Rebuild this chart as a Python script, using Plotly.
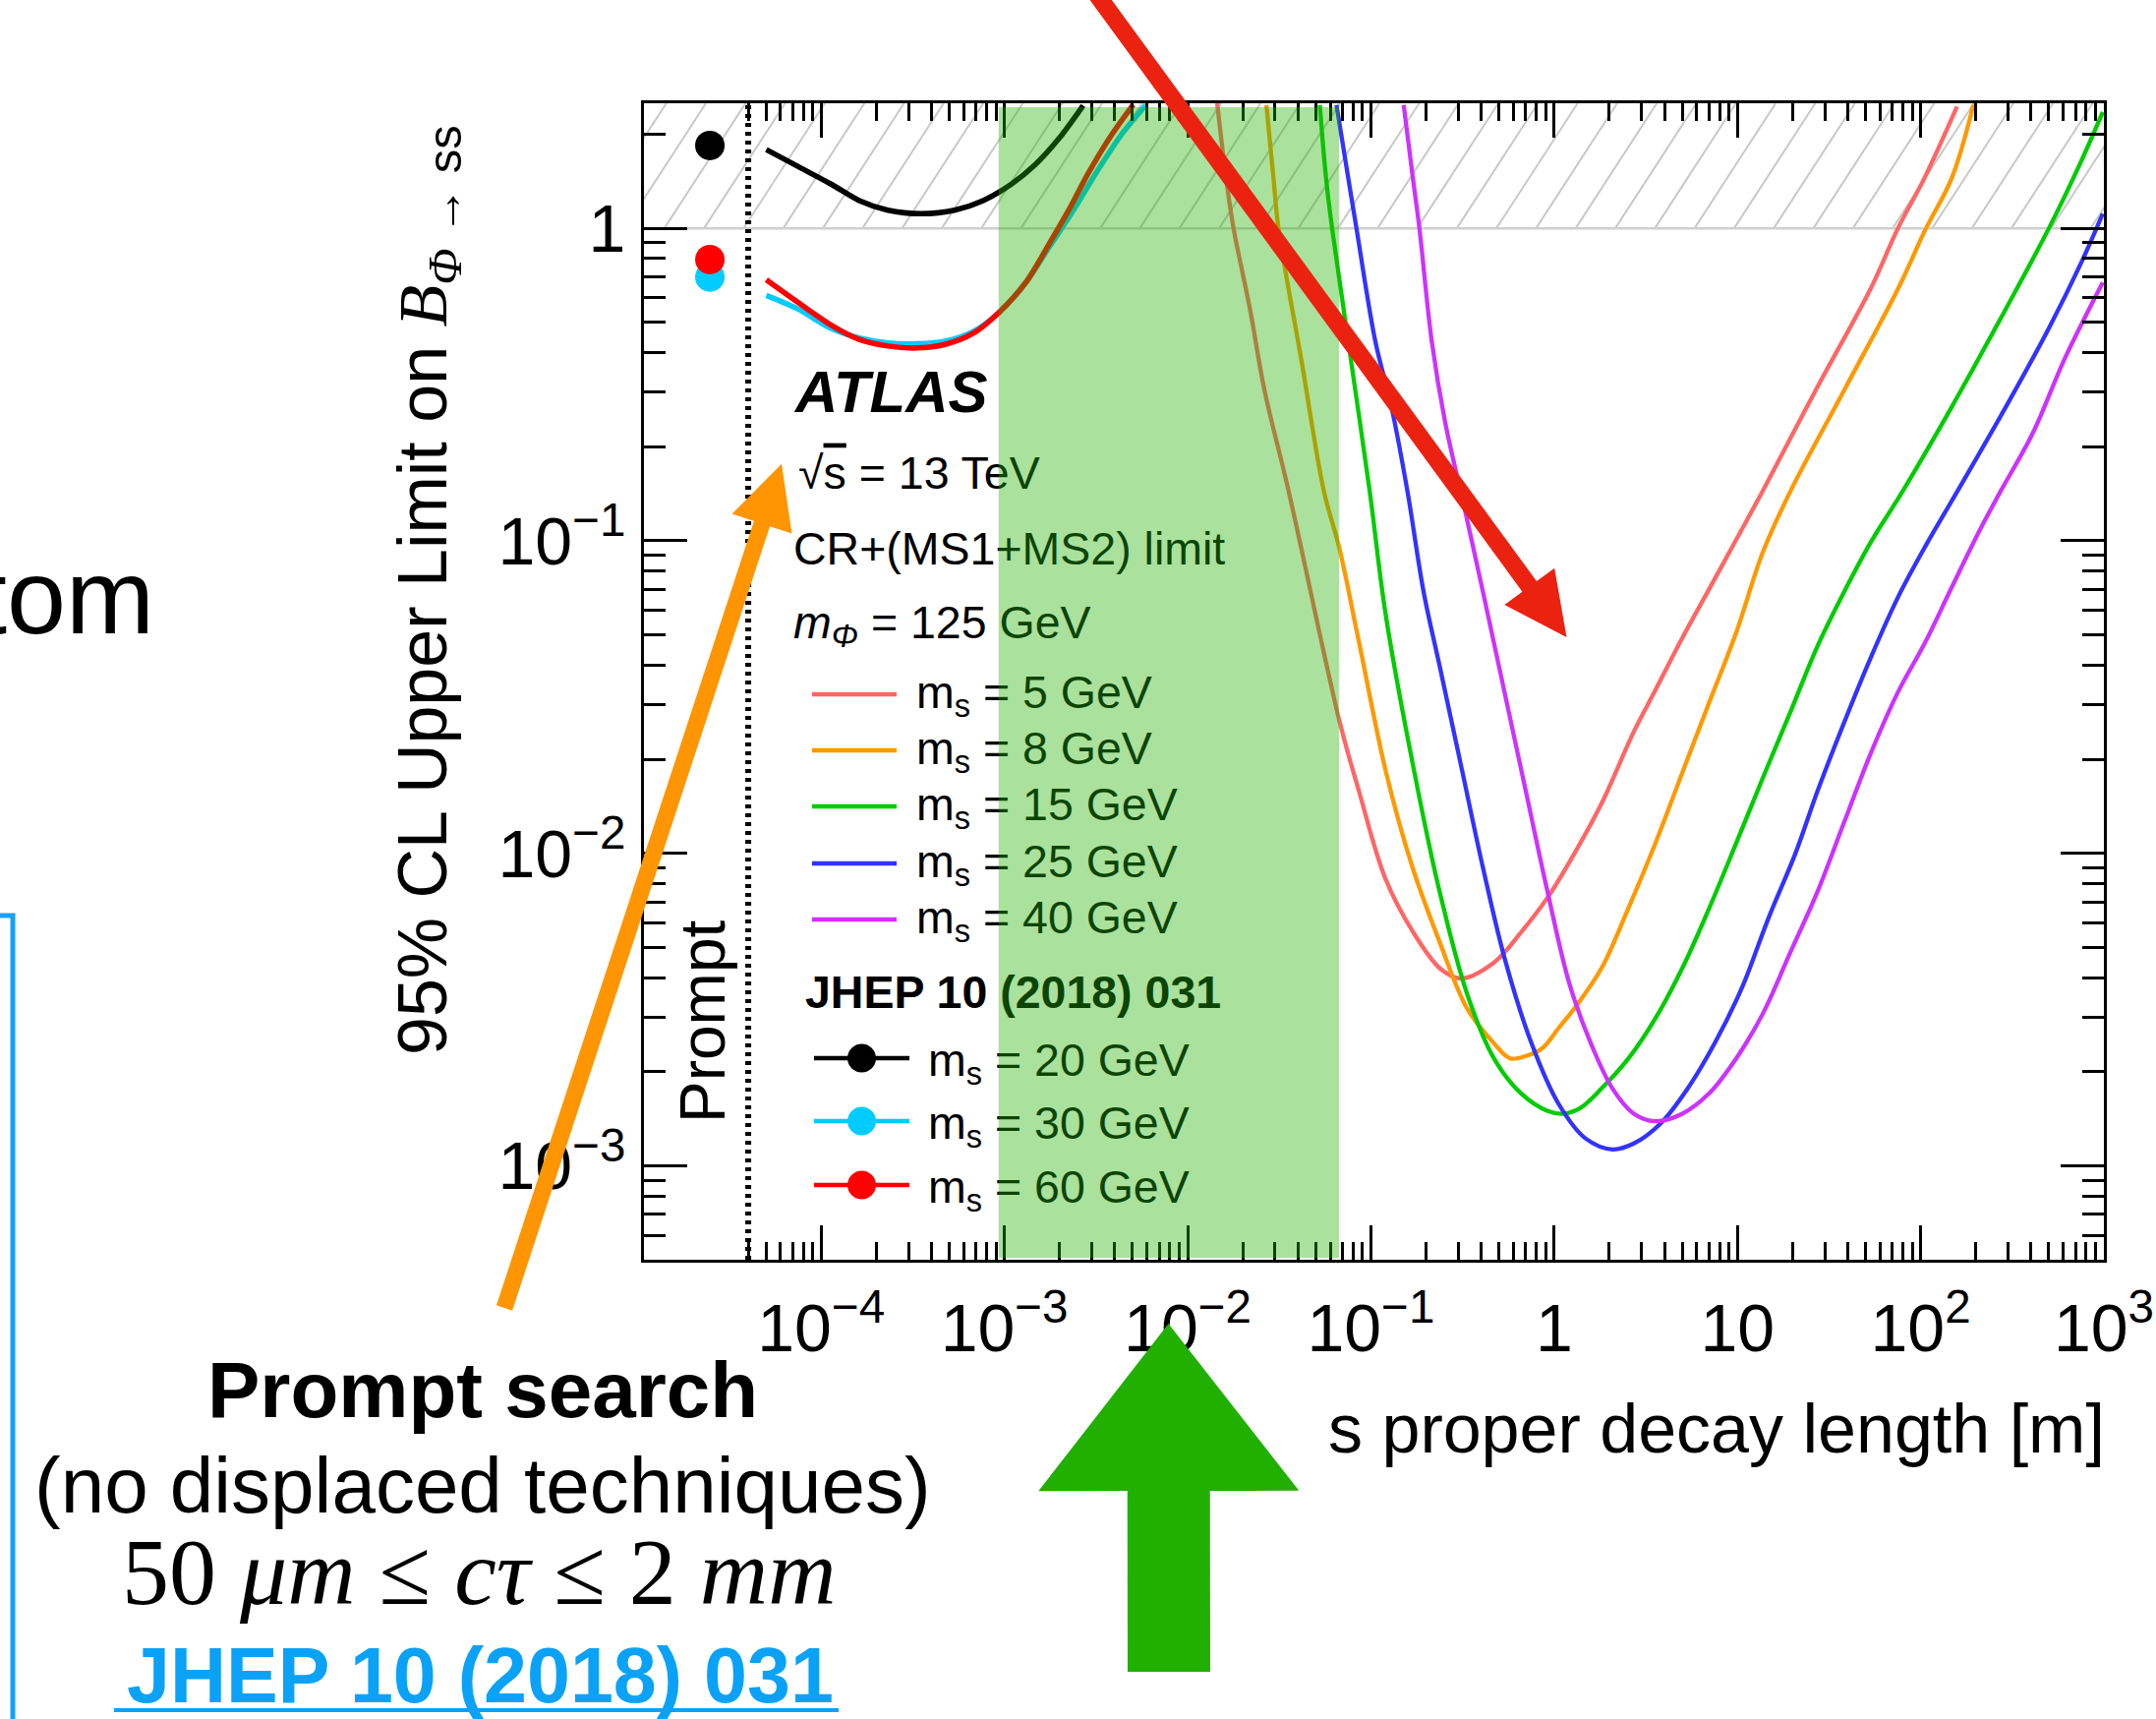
import math
import plotly.graph_objects as go

# ---------------- data ----------------
# x: s proper decay length [m] ; y: 95% CL upper limit on B(Phi->ss)
X_MS5 = [0.0145, 0.0162, 0.0178, 0.0219, 0.0263, 0.0355, 0.0676, 0.0861, 0.120, 0.170, 0.240, 0.309,
         0.468, 0.661, 0.923, 1.29, 1.82, 2.72, 3.55, 5.01, 7.08, 9.77, 13.8, 27.2, 53.7, 75.2, 105, 158]
Y_MS5 = [2.51, 1.45, 1.0, 0.55, 0.302, 0.145, 0.0263, 0.0158, 0.0083, 0.0056, 0.00427, 0.00398,
         0.00447, 0.0056, 0.00724, 0.0100, 0.0145, 0.0245, 0.0331, 0.049, 0.0708, 0.100, 0.145, 0.309,
         0.646, 1.0, 1.45, 2.45]

X_MS8 = [0.0269, 0.0294, 0.0313, 0.0417, 0.0555, 0.0670, 0.0861, 0.121, 0.169, 0.238, 0.334, 0.469,
         0.574, 0.703, 0.861, 1.057, 1.294, 1.816, 2.547, 3.573, 5.01, 7.03, 9.86, 13.8, 19.4, 38.2,
         75.2, 106, 148, 194]
Y_MS8 = [2.48, 1.45, 1.0, 0.38, 0.1435, 0.0957, 0.0474, 0.01816, 0.00899, 0.00518, 0.0032, 0.00247,
         0.00221, 0.00225, 0.00238, 0.00276, 0.0032, 0.0043, 0.0067, 0.0108, 0.01816, 0.0305, 0.051,
         0.0923, 0.1435, 0.303, 0.64, 0.989, 1.45, 2.48]

X_MS15 = [0.0526, 0.0569, 0.0614, 0.0752, 0.0986, 0.121, 0.1816, 0.238, 0.334, 0.469, 0.658, 0.923,
          1.13, 1.384, 1.816, 2.547, 3.573, 5.01, 7.03, 9.86, 13.8, 19.4, 27.2, 38.2, 53.6, 79.4, 148,
          292, 501, 752, 986]
Y_MS15 = [2.48, 1.45, 1.0, 0.435, 0.1435, 0.057, 0.01567, 0.00748, 0.00357, 0.00221, 0.00171, 0.0015,
          0.00147, 0.00153, 0.00177, 0.00221, 0.00297, 0.0043, 0.0067, 0.0108, 0.0175, 0.0282, 0.0457,
          0.0686, 0.0993, 0.1435, 0.2685, 0.553, 1.0, 1.64, 2.355]

X_MS25 = [0.0649, 0.0752, 0.0834, 0.1057, 0.1294, 0.1585, 0.194, 0.238, 0.312, 0.409, 0.536, 0.752,
          1.057, 1.483, 2.08, 2.72, 3.82, 5.36, 7.52, 10.57, 14.8, 20.8, 27.2, 38.2, 53.6, 75.2, 106,
          158, 292, 501, 752, 986]
Y_MS25 = [2.48, 1.45, 1.0, 0.435, 0.2685, 0.1435, 0.0686, 0.0394, 0.01884, 0.00899, 0.00463, 0.00247,
          0.00158, 0.001225, 0.00113, 0.00118, 0.00137, 0.00177, 0.00247, 0.00371, 0.00622, 0.01005,
          0.01567, 0.0262, 0.0425, 0.0660, 0.0960, 0.1435, 0.2685, 0.479, 0.776, 1.114]

X_MS40 = [0.151, 0.1694, 0.184, 0.2148, 0.2547, 0.323, 0.409, 0.536, 0.703, 0.923, 1.208, 1.585, 2.08,
          2.72, 3.573, 5.01, 7.03, 9.86, 13.8, 19.4, 27.2, 38.2, 53.6, 75.2, 106, 148, 208, 272, 409,
          614, 986]
Y_MS40 = [2.48, 1.45, 1.0, 0.435, 0.238, 0.1285, 0.0686, 0.0328, 0.01567, 0.00748, 0.00385, 0.00247,
          0.00177, 0.00147, 0.00139, 0.00147, 0.00171, 0.00221, 0.00308, 0.00481, 0.00748, 0.01256,
          0.021, 0.0328, 0.0474, 0.0711, 0.1069, 0.1435, 0.221, 0.385, 0.671]

# JHEP 10 (2018) 031 (prompt search) curves
X_J20 = [5.02e-5, 7.41e-5, 1.127e-4, 1.614e-4, 2.31e-4, 3.52e-4, 5.35e-4, 7.66e-4, 1.096e-3,
         1.476e-3, 1.99e-3, 2.69e-3]
Y_J20 = [1.786, 1.581, 1.387, 1.227, 1.143, 1.114, 1.143, 1.227, 1.387, 1.6, 1.941, 2.47]
X_J30 = [5.02e-5, 7.41e-5, 1.127e-4, 1.614e-4, 2.31e-4, 3.31e-4, 4.74e-4, 6.79e-4, 9.44e-4,
         1.309e-3, 1.766e-3, 2.38e-3, 3.21e-3, 4.34e-3, 5.92e-3]
Y_J30 = [0.61, 0.553, 0.479, 0.446, 0.43, 0.427, 0.435, 0.468, 0.541, 0.671, 0.875, 1.143, 1.524,
         1.991, 2.483]
X_J60 = [5.02e-5, 7.41e-5, 1.127e-4, 1.614e-4, 2.31e-4, 3.31e-4, 4.74e-4, 6.79e-4, 9.44e-4,
         1.309e-3, 1.766e-3, 2.244e-3, 2.85e-3, 3.85e-3, 5.04e-3]
Y_J60 = [0.684, 0.581, 0.491, 0.441, 0.42, 0.414, 0.425, 0.462, 0.541, 0.671, 0.897, 1.143, 1.489,
         1.991, 2.483]

# prompt points (plotted left of the prompt boundary)
X_PROMPT = 2.47e-5
Y_PROMPT = {"20": 1.84, "30": 0.698, "60": 0.794}

PROMPT_BOUNDARY = 4.0e-5          # dotted line
BAND_X = (9.3e-4, 0.067)           # green highlighted band
HATCH_LOW = 1.0                    # B > 1 hatched region

MAIN_LABELS = ["5", "8", "15", "25", "40"]
JHEP_LABELS = ["20", "30", "60"]

# tick labels
X_TICKVALS = [1e-4, 1e-3, 1e-2, 1e-1, 1, 10, 100, 1000]
X_TICKTEXT = ["10<sup>−4</sup>", "10<sup>−3</sup>", "10<sup>−2</sup>", "10<sup>−1</sup>", "1", "10",
              "10<sup>2</sup>", "10<sup>3</sup>"]
Y_TICKVALS = [1e-3, 1e-2, 1e-1, 1]
Y_TICKTEXT = ["10<sup>−3</sup>", "10<sup>−2</sup>", "10<sup>−1</sup>", "1"]

# ---------------- layout constants ----------------
FIG_W, FIG_H = 2193, 1748
PL, PR, PT, PB = 655, 2140, 105, 1281
XLOG = (-4.967, 3.0)
YLOG = (-3.30, 0.40)
FONT = "Liberation Sans, Arial, Helvetica, sans-serif"
SERIF = "Liberation Serif, Times New Roman, serif"

MAIN_COLORS = ["#ff6666", "#ff9900", "#00cc00", "#3333ff", "#cc33ff"]
JHEP_COLORS = {"20": "#000000", "30": "#00ccff", "60": "#ff0000"}


def px_paper(x):
    return (x - PL) / (PR - PL)


def py_paper(y):
    return (PB - y) / (PB - PT)


def px_data(x):
    return 10 ** (XLOG[0] + (x - PL) / (PR - PL) * (XLOG[1] - XLOG[0]))


def py_data(y):
    return 10 ** (YLOG[1] - (y - PT) / (PB - PT) * (YLOG[1] - YLOG[0]))


def logx_paper(v):
    return (math.log10(v) - XLOG[0]) / (XLOG[1] - XLOG[0])


fig = go.Figure()

# hatched region B > 1 (decoration lines at ~57 degrees)
y1px = PT + (YLOG[1] - math.log10(HATCH_LOW)) / (YLOG[1] - YLOG[0]) * (PB - PT)
dxh = (y1px - PT) / math.tan(math.radians(57))
hx, hy = [], []
start = 1683.3
spacing = 40.3
k0 = -int((start - PL + dxh) / spacing) - 2
k1 = int((PR - start) / spacing) + 2
for k in range(k0, k1):
    xb = start + k * spacing
    hx += [px_data(xb), px_data(xb + dxh), None]
    hy += [py_data(y1px), py_data(PT), None]
fig.add_trace(go.Scatter(x=hx, y=hy, mode="lines", line=dict(color="#c9c9c9", width=2),
                         hoverinfo="skip", showlegend=False))
fig.add_trace(go.Scatter(x=[10 ** XLOG[0], 10 ** XLOG[1]], y=[HATCH_LOW, HATCH_LOW], mode="lines",
                         line=dict(color="#cfcfcf", width=2.5), hoverinfo="skip", showlegend=False))

# prompt boundary
fig.add_trace(go.Scatter(x=[PROMPT_BOUNDARY, PROMPT_BOUNDARY], y=[10 ** YLOG[0], 10 ** YLOG[1]],
                         mode="lines", line=dict(color="black", width=6, dash="4px,5px"),
                         hoverinfo="skip", showlegend=False))

# main limit curves
for xs, ys, col, lab in zip([X_MS5, X_MS8, X_MS15, X_MS25, X_MS40],
                            [Y_MS5, Y_MS8, Y_MS15, Y_MS25, Y_MS40], MAIN_COLORS, MAIN_LABELS):
    fig.add_trace(go.Scatter(x=xs, y=ys, mode="lines",
                             line=dict(color=col, width=4.3, shape="spline", smoothing=1.0),
                             name=f"m_s = {lab} GeV", showlegend=False))

# JHEP curves
for xs, ys, lab in [(X_J20, Y_J20, "20"), (X_J30, Y_J30, "30"), (X_J60, Y_J60, "60")]:
    fig.add_trace(go.Scatter(x=xs, y=ys, mode="lines",
                             line=dict(color=JHEP_COLORS[lab], width=5.5, shape="spline", smoothing=0.8),
                             showlegend=False))
for lab in ["20", "30", "60"]:
    fig.add_trace(go.Scatter(x=[X_PROMPT], y=[Y_PROMPT[lab]], mode="markers",
                             marker=dict(color=JHEP_COLORS[lab], size=30, line=dict(width=0)),
                             showlegend=False))

# ---------------- in-plot legend ----------------
TXT_DY = 6
MAIN_ROWS = [702, 759, 816, 874, 931]
for lab, col, ry in zip(MAIN_LABELS, MAIN_COLORS, MAIN_ROWS):
    fig.add_trace(go.Scatter(x=[px_data(826), px_data(912)], y=[py_data(ry + 4)] * 2, mode="lines",
                             line=dict(color=col, width=4.5), hoverinfo="skip", showlegend=False))
JHEP_ROWS = [1076, 1140, 1205]
for lab, ry in zip(JHEP_LABELS, JHEP_ROWS):
    fig.add_trace(go.Scatter(x=[px_data(828), px_data(925)], y=[py_data(ry)] * 2, mode="lines",
                             line=dict(color=JHEP_COLORS[lab], width=4.5), hoverinfo="skip",
                             showlegend=False))
    fig.add_trace(go.Scatter(x=[px_data(876.5)], y=[py_data(ry)], mode="markers",
                             marker=dict(color=JHEP_COLORS[lab], size=29), hoverinfo="skip",
                             showlegend=False))

texts = [
    (809, 398, "<b><i>ATLAS</i></b>", 60),
    (812, 479, "√<span style='text-decoration:overline'>s</span> = 13 TeV", 46.5),
    (807, 556, "CR+(MS1+MS2) limit", 46.5),
    (807, 631, "<i>m</i><sub><i>Φ</i></sub> = 125 GeV", 46.5),
    (819, 1007, "<b>JHEP 10 (2018) 031</b>", 46.5),
]
for lab, ry in zip(MAIN_LABELS, MAIN_ROWS):
    texts.append((932, ry, f"m<sub>s</sub> = {lab} GeV", 46.5))
for lab, ry in zip(JHEP_LABELS, JHEP_ROWS):
    texts.append((944, ry, f"m<sub>s</sub> = {lab} GeV", 46.5))
for tx, ty, tt, fs in texts:
    fig.add_trace(go.Scatter(x=[px_data(tx)], y=[py_data(ty + TXT_DY)], mode="text", text=[tt],
                             textposition="middle right", cliponaxis=False,
                             textfont=dict(family=FONT, size=fs, color="black"),
                             hoverinfo="skip", showlegend=False))

# ---------------- axes ----------------
X_MINOR = [m * 10 ** e for e in range(-5, 3) for m in range(2, 10) if m * 10 ** e >= PROMPT_BOUNDARY * 0.99]
Y_MINOR = [m * 10 ** e for e in range(-4, 1) for m in range(2, 10)]

axis_common = dict(type="log", tickmode="array", showgrid=False, zeroline=False, automargin=False,
                   showline=True, linecolor="black", linewidth=3, mirror="ticks", ticks="inside",
                   tickcolor="black", tickwidth=2.5,
                   tickfont=dict(family=FONT, size=68, color="black"))
fig.update_xaxes(**axis_common, range=list(XLOG), tickvals=X_TICKVALS, ticktext=X_TICKTEXT,
                 ticklen=35, ticklabelstandoff=8,
                 minor=dict(ticks="inside", ticklen=18, tickwidth=2.5, tickcolor="black",
                            tickvals=X_MINOR, showgrid=False))
fig.update_yaxes(**axis_common, range=list(YLOG), tickvals=Y_TICKVALS, ticktext=Y_TICKTEXT,
                 ticklen=44, ticklabelstandoff=2,
                 minor=dict(ticks="inside", ticklen=22, tickwidth=2.5, tickcolor="black",
                            tickvals=Y_MINOR, showgrid=False))


# ---------------- shapes ----------------
def arrow_path(tail, tip, shaft_w, head_len, head_half):
    tx, ty = tail
    hx_, hy_ = tip
    L = math.hypot(hx_ - tx, hy_ - ty)
    ux, uy = (hx_ - tx) / L, (hy_ - ty) / L
    nx, ny = -uy, ux
    bx, by = hx_ - ux * head_len, hy_ - uy * head_len
    s = shaft_w / 2
    pts = [(tx + nx * s, ty + ny * s), (bx + nx * s, by + ny * s),
           (bx + nx * head_half, by + ny * head_half), (hx_, hy_),
           (bx - nx * head_half, by - ny * head_half), (bx - nx * s, by - ny * s),
           (tx - nx * s, ty - ny * s)]
    return "M " + " L ".join(f"{px_paper(x):.5f},{py_paper(y):.5f}" for x, y in pts) + " Z"


shapes = [
    dict(type="rect", xref="paper", yref="paper", x0=logx_paper(BAND_X[0]), x1=logx_paper(BAND_X[1]),
         y0=py_paper(PB - 2), y1=py_paper(PT + 4), fillcolor="rgba(34,177,0,0.385)", line=dict(width=0),
         layer="above"),
    dict(type="path", xref="paper", yref="paper", path=arrow_path((1116, -5), (1593.5, 648), 18, 64, 31.5),
         fillcolor="#ec2210", line=dict(width=0), layer="above"),
    dict(type="path", xref="paper", yref="paper", path=arrow_path((513, 1330), (795, 471.7), 17, 64, 32),
         fillcolor="#ff9500", line=dict(width=0), layer="above"),
    dict(type="path", xref="paper", yref="paper", path=arrow_path((1189, 1700), (1188.5, 1346), 84, 170, 132.5),
         fillcolor="#21b000", line=dict(width=0), layer="above"),
    dict(type="path", xref="paper", yref="paper",
         path=f"M {px_paper(-5):.5f},{py_paper(931):.5f} L {px_paper(13):.5f},{py_paper(931):.5f} "
              f"L {px_paper(13):.5f},{py_paper(1760):.5f}",
         line=dict(color="#16a1f5", width=5), fillcolor="rgba(0,0,0,0)", layer="above"),
    dict(type="line", xref="paper", yref="paper", x0=px_paper(116), x1=px_paper(853),
         y0=py_paper(1739), y1=py_paper(1739), line=dict(color="#0aa2f7", width=4), layer="above"),
]


# ---------------- annotations ----------------
def ann(x, y, text, size, xanchor="center", yanchor="middle", angle=0, color="black", family=FONT):
    return dict(x=px_paper(x), y=py_paper(y), xref="paper", yref="paper", text=text, showarrow=False,
                xanchor=xanchor, yanchor=yanchor, textangle=angle,
                font=dict(family=family, size=size, color=color))


annotations = [
    ann(159, 606, "tom", 108, xanchor="right"),
    ann(435, 600, "95% CL Upper Limit on <span style='font-family:Liberation Serif'><i>B</i></span>"
                  "<sub><span style='font-family:Liberation Serif'><i>Φ</i></span> → ss</sub>", 70, angle=-90),
    ann(2143, 1453, "s proper decay length [m]", 70, xanchor="right"),
    ann(715, 1039, "Prompt", 64, angle=-90),
    ann(491, 1413, "<b>Prompt search</b>", 80),
    ann(491, 1510, "(no displaced techniques)", 80),
    ann(487, 1598, "50 <i>μm</i> ≤ <i>cτ</i> ≤ 2 <i>mm</i>", 96, family=SERIF),
    ann(488, 1703, "<b>JHEP 10 (2018) 031</b>", 79, color="#0aa2f7"),
]

fig.update_layout(
    width=FIG_W, height=FIG_H, autosize=False,
    margin=dict(l=PL, r=FIG_W - PR, t=PT, b=FIG_H - PB, pad=0, autoexpand=False),
    paper_bgcolor="white", plot_bgcolor="white",
    showlegend=False, shapes=shapes, annotations=annotations,
    font=dict(family=FONT, color="black"),
)

fig.write_html("out.html", config={"displayModeBar": False},
               post_script="document.body.style.margin='0';document.body.style.overflow='hidden';")
